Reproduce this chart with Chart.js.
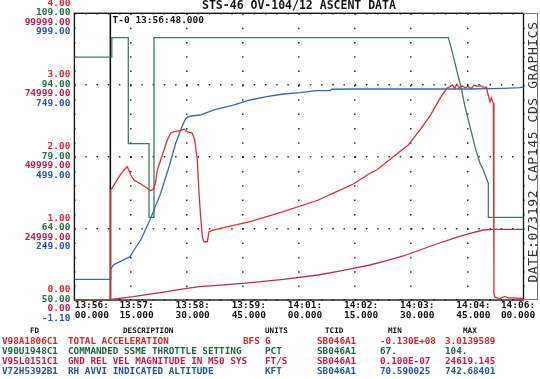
<!DOCTYPE html>
<html><head><meta charset="utf-8">
<script src="https://cdn.jsdelivr.net/npm/chart.js@4/dist/chart.umd.min.js"></script>
<style>
html,body{margin:0;padding:0;background:#fff;}
#wrap{position:relative;width:540px;height:379px;overflow:hidden;background:#fff;font-family:"DejaVu Sans Mono",monospace;font-weight:bold;}
canvas{position:absolute;left:0;top:0;}
.a{position:absolute;white-space:pre;line-height:10px;font-size:9.3px;height:10px;}
.h{position:absolute;white-space:pre;line-height:10px;font-size:7.6px;height:10px;color:#111;}
.r1{color:#d8262e;top:336px;} .r2{color:#1d6b3c;top:346px;} .r3{color:#c41e4e;top:356px;} .r4{color:#2456a4;top:366px;}
.hd{top:325.5px;}
#t0{position:absolute;left:112.5px;top:15px;font-size:9.5px;line-height:10px;color:#111;white-space:pre;}
#strip{position:absolute;left:523px;top:13px;width:15px;height:287px;border:1px solid #777;border-left:none;box-sizing:border-box;}
#side{position:absolute;left:531.5px;top:151.5px;transform:translate(-50%,-50%) rotate(-90deg);font-size:13px;font-weight:normal;letter-spacing:0.6px;color:#333;white-space:pre;}
</style></head>
<body>
<div id="wrap">
<canvas id="c" width="540" height="379"></canvas>
<div id="t0">T-0 13:56:48.000</div>
<div id="strip"></div>
<div id="side">DATE:073192 CAP145 CDS GRAPHICS</div>

<div class="h hd" style="left:30px">FD</div>
<div class="h hd" style="left:123px">DESCRIPTION</div>
<div class="h hd" style="left:265px">UNITS</div>
<div class="h hd" style="left:325px">TCID</div>
<div class="h hd" style="left:388px">MIN</div>
<div class="h hd" style="left:463px">MAX</div>

<div class="a r1" style="left:2px">V98A1806C1</div>
<div class="a r1" style="left:68px">TOTAL ACCELERATION</div>
<div class="a r1" style="left:243px">BFS</div>
<div class="a r1" style="left:265px">G</div>
<div class="a r1" style="left:317px">SB046A1</div>
<div class="a r1" style="left:380px">-0.130E+08</div>
<div class="a r1" style="left:445px">3.0139589</div>

<div class="a r2" style="left:2px">V90U1948C1</div>
<div class="a r2" style="left:68px">COMMANDED SSME THROTTLE SETTING</div>
<div class="a r2" style="left:265px">PCT</div>
<div class="a r2" style="left:317px">SB046A1</div>
<div class="a r2" style="left:380px">67.</div>
<div class="a r2" style="left:445px">104.</div>

<div class="a r3" style="left:2px">V95L0151C1</div>
<div class="a r3" style="left:68px">GND REL VEL MAGNITUDE IN M50 SYS</div>
<div class="a r3" style="left:265px">FT/S</div>
<div class="a r3" style="left:317px">SB046A1</div>
<div class="a r3" style="left:380px">0.100E-07</div>
<div class="a r3" style="left:445px">24619.145</div>

<div class="a r4" style="left:2px">V72H5392B1</div>
<div class="a r4" style="left:68px">RH AVVI INDICATED ALTITUDE</div>
<div class="a r4" style="left:265px">KFT</div>
<div class="a r4" style="left:317px">SB046A1</div>
<div class="a r4" style="left:380px">70.590025</div>
<div class="a r4" style="left:445px">742.68401</div>
</div>

<script>
// ---- time axis: seconds after 13:56:00.000 ----
const T0_SEC = 48;
const xRange = [0, 600];
const xTickSeconds = [0, 75, 150, 225, 300, 375, 450, 525, 600];
const xTickLabels = [
  ["13:56:", "00.000"], ["13:57:", "15.000"], ["13:58:", "30.000"], ["13:59:", "45.000"],
  ["14:01:", "00.000"], ["14:02:", "15.000"], ["14:03:", "30.000"], ["14:04:", "45.000"], ["14:06:", "00.000"]
];

// ---- value axes ----
const accelRange = [0, 4];
const accelTickLabels = ["0.00", "1.00", "2.00", "3.00", "4.00"];
const throttleRange = [50, 109];
const throttleTickLabels = ["50.00", "64.00", "79.00", "94.00", "109.00"];
const velRange = [0, 99999];
const velTickLabels = ["0.00", "24999.00", "49999.00", "74999.00", "99999.00"];
const altRange = [-1.1, 999];
const altTickLabels = ["-1.10", "249.00", "499.00", "749.00", "999.00"];

// ---- V98A1806C1 TOTAL ACCELERATION (G) ----
const accelTime = [0, 48, 48.5, 52.9, 59.6, 66.3, 70.7, 75.2, 79.6, 88.6, 97.4, 101.9, 106.3, 108.6, 110.8, 115.3,
  119.7, 124.1, 128.7, 133.1, 142, 146.4, 150.8, 157.5, 160.7, 164.2, 166.5, 168.7, 170.9, 173.1, 177.6, 179.8,
  186.5, 234.6, 279.1, 325.9, 350.4, 372.6, 394.9, 403.9, 426, 446.1, 461.7, 475.1, 488.5, 497.4, 501.8, 505,
  508, 511, 514, 518, 522, 526, 530, 534, 538, 542, 546, 550.8, 551.6, 555.3, 557, 559.7, 560.5, 562, 568.6,
  575, 579.7, 585, 600];
const accelG = [0, 0, 1.535, 1.604, 1.72, 1.814, 1.86, 1.744, 1.674, 1.618, 1.558, 1.525, 1.558, 1.65, 1.814, 1.953,
  2.093, 2.232, 2.326, 2.348, 2.362, 2.382, 2.348, 2.326, 2.232, 1.953, 1.489, 1.162, 0.883, 0.813, 0.813, 0.953,
  0.977, 1.092, 1.232, 1.395, 1.511, 1.618, 1.768, 1.814, 2.0, 2.163, 2.372, 2.57, 2.814, 2.954, 2.976, 3.0,
  2.95, 3.01, 2.96, 2.99, 2.96, 2.98, 2.95, 3.0, 2.98, 2.99, 2.97, 2.97, 2.906, 2.767, 2.82, 2.744, 0.09, 0.04, 0.02,
  0.05, 0.03, 0.03, 0.02];

// ---- V90U1948C1 COMMANDED SSME THROTTLE SETTING (PCT) ----
const throttleTime = [0, 50, 50, 72, 72, 99.7, 99.7, 106.3, 106.3, 499.5, 503.1, 508.5, 512.9, 517.4, 521.8, 526.3,
  530.8, 535.2, 541.9, 546.3, 549.5, 553, 553, 600];
const throttlePct = [100, 100, 104, 104, 82.2, 82.2, 67, 67, 104, 104, 102.1, 98.7, 96.0, 93.2, 89.8, 87.0,
  84.3, 81.5, 78.1, 76.8, 75.4, 74.0, 67, 67];

// ---- V95L0151C1 GND REL VEL MAGNITUDE IN M50 SYS (FT/S) ----
const velTime = [0, 48, 49.8, 78.7, 123.3, 150, 167.8, 225.7, 279.1, 325.9, 350.4, 372.6, 394.9, 417.2, 439.4,
  461.7, 484, 506.2, 528.5, 546.3, 559.7, 600];
const velFts = [0, 0, 244, 1151, 2895, 4081, 4639, 5825, 7220, 8720, 9871, 11057, 12208, 13708, 15347,
  17440, 19533, 21521, 23265, 24416, 24619, 24619];

// ---- V72H5392B1 RH AVVI INDICATED ALTITUDE (KFT) ----
const altTime = [0, 48, 48.5, 52, 60.9, 74.3, 79.6, 88.6, 101.9, 115.3, 126.4, 135.3, 142, 148.7, 155.4, 167.8,
  186.5, 212.3, 234.6, 256.9, 279.1, 301.4, 323.7, 341.5, 343.8, 372.6, 461.7, 528.5, 573, 595.3, 600];
const altKft = [70.59, 70.59, 106, 121, 132.5, 150, 173.3, 208.2, 283.9, 371.1, 463.9, 545.5, 591.9, 632.7, 640.8, 644.2,
  661.7, 679.1, 696.6, 708.1, 717.5, 722, 729, 729, 734, 735, 735, 735, 737.4, 739.5, 742.68];

const pts = (xs, ys) => xs.map((x, i) => ({x: x, y: ys[i]}));

const C_ACC = '#d6323a', C_THR = '#3a7d5c', C_VEL = '#bd2c55', C_ALT = '#3a68b0';
const L_ACC = '#dc2a36', L_THR = '#1d7440', L_VEL = '#c41e4e', L_ALT = '#2a5aae';
const MONO = '"DejaVu Sans Mono", monospace';

function fiveTicks(scale) {
  const lo = scale.min, hi = scale.max;
  scale.ticks = [0, 1, 2, 3, 4].map(i => ({value: lo + i * (hi - lo) / 4}));
}
function yAxis(range, labels, color, offset, main) {
  return {
    type: 'linear', position: 'left', min: range[0], max: range[1], weight: main ? 10 : 0,
    afterBuildTicks: fiveTicks,
    afterFit: (s) => { s.width = main ? 74.4 : 0; s.paddingTop = 0; s.paddingBottom = 0; },
    ticks: {
      callback: (v, i) => labels[i], color: color, labelOffset: offset, padding: 4, autoSkip: false,
      font: {family: MONO, size: 9.5, weight: 'bold', lineHeight: 1}
    },
    grid: main ? {display: true, drawTicks: false, color: 'rgba(25,25,25,0.9)', lineWidth: 1.5} : {display: false, drawTicks: false},
    border: main ? {display: false, dash: [1.5, 9.73]} : {display: false}
  };
}

// stacks the four value axes' label columns on the same spot, left of the plot frame
const stackAxesPlugin = {
  id: 'stackAxes',
  afterLayout(chart) {
    const left = chart.chartArea.left;
    ['yThr', 'yVel', 'yAlt'].forEach(id => {
      const s = chart.scales[id];
      s.left = 0; s.right = left; s.width = left;
      s._labelItems = null;
    });
  }
};

const framePlugin = {
  id: 'frame',
  beforeDatasetsDraw(chart) {
    const a = chart.chartArea, ctx = chart.ctx;
    ctx.save();
    ctx.strokeStyle = '#1a1a1a';
    ctx.lineWidth = 1.4;
    ctx.setLineDash([]);
    ctx.strokeRect(a.left, a.top, a.right - a.left, a.bottom - a.top);
    ctx.restore();
  }
};

new Chart(document.getElementById('c'), {
  type: 'line',
  plugins: [stackAxesPlugin, framePlugin],
  data: {
    datasets: [
      {label: 'TOTAL ACCELERATION', data: pts(accelTime, accelG), yAxisID: 'yAcc', borderColor: C_ACC, order: 1},
      {label: 'COMMANDED SSME THROTTLE SETTING', data: pts(throttleTime, throttlePct), yAxisID: 'yThr', borderColor: C_THR, order: 2},
      {label: 'GND REL VEL MAGNITUDE IN M50 SYS', data: pts(velTime, velFts), yAxisID: 'yVel', borderColor: C_VEL, order: 3},
      {label: 'RH AVVI INDICATED ALTITUDE', data: pts(altTime, altKft), yAxisID: 'yAlt', borderColor: C_ALT, order: 4},
      {label: 'T-0', data: [{x: T0_SEC, y: accelRange[0]}, {x: T0_SEC, y: accelRange[1]}], yAxisID: 'yAcc', borderColor: '#151515', borderWidth: 1.6, order: 5}
    ]
  },
  options: {
    responsive: false,
    animation: false,
    devicePixelRatio: 1,
    layout: {padding: {left: 0, right: 16.5, top: 0.3, bottom: 0}},
    elements: {
      point: {radius: 0, hoverRadius: 0},
      line: {borderWidth: 1.3, tension: 0, fill: false}
    },
    plugins: {
      legend: {display: false},
      tooltip: {enabled: false},
      title: {
        display: true, text: 'STS-46 OV-104/12 ASCENT DATA', fullSize: false, color: '#151515',
        font: {family: MONO, size: 11.5, weight: 'bold', lineHeight: 1},
        padding: {top: 0, bottom: 1.5}
      }
    },
    scales: {
      x: {
        type: 'linear', position: 'bottom', min: xRange[0], max: xRange[1],
        afterBuildTicks: (s) => { s.ticks = xTickSeconds.map(v => ({value: v})); },
        afterFit: (s) => { s.height = 79; s.paddingLeft = 0; s.paddingRight = 0; },
        ticks: {
          autoSkip: false, maxRotation: 0, minRotation: 0, padding: 1, labelOffset: 6, color: '#111',
          font: {family: MONO, size: 9.5, weight: 'bold', lineHeight: 1},
          callback: (v, i) => {
            const l = xTickLabels[i];
            if (i === 0) return l.map(s => '    ' + s);
            if (i === xTickLabels.length - 1) return l.map(s => s + '    ');
            return l;
          }
        },
        grid: {display: true, drawTicks: false, color: 'rgba(25,25,25,0.9)', lineWidth: 1.5},
        border: {display: false, dash: [1.5, 12.83]}
      },
      yAcc: yAxis(accelRange, accelTickLabels, L_ACC, -10, true),
      yThr: yAxis(throttleRange, throttleTickLabels, L_THR, -0.5, false),
      yVel: yAxis(velRange, velTickLabels, L_VEL, 9, false),
      yAlt: yAxis(altRange, altTickLabels, L_ALT, 18.5, false)
    }
  }
});
</script>
</body></html>
